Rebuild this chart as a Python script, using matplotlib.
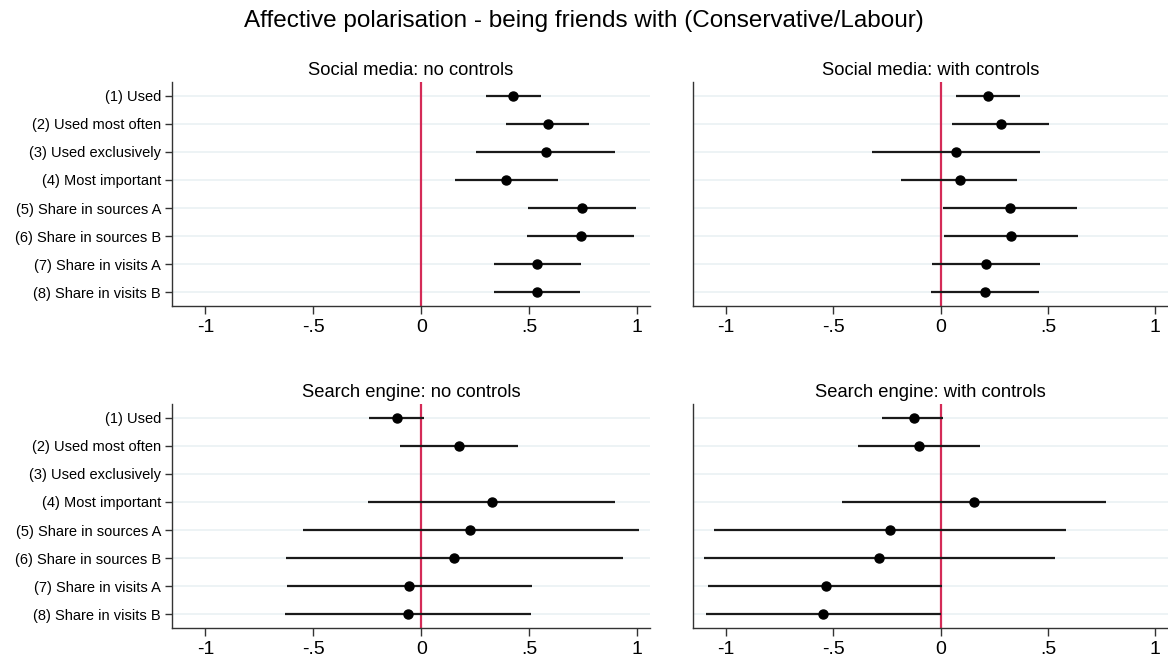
import numpy as np
import matplotlib.pyplot as plt

plt.rcParams['font.family'] = ['Liberation Sans', 'DejaVu Sans']

labels = ["(1) Used", "(2) Used most often", "(3) Used exclusively",
          "(4) Most important", "(5) Share in sources A",
          "(6) Share in sources B", "(7) Share in visits A",
          "(8) Share in visits B"]

# point estimates and 95% CI bounds, one list per panel (nan = not estimated)
sm_nc_est = [0.426, 0.586, 0.578, 0.395, 0.746, 0.739, 0.537, 0.535]
sm_nc_lo = [0.298, 0.392, 0.256, 0.156, 0.495, 0.489, 0.336, 0.335]
sm_nc_hi = [0.555, 0.779, 0.899, 0.632, 0.995, 0.987, 0.739, 0.736]

sm_wc_est = [0.221, 0.279, 0.070, 0.089, 0.322, 0.326, 0.210, 0.206]
sm_wc_lo = [0.070, 0.053, -0.322, -0.184, 0.011, 0.014, -0.042, -0.047]
sm_wc_hi = [0.372, 0.506, 0.463, 0.358, 0.636, 0.639, 0.463, 0.458]

se_nc_est = [-0.112, 0.174, np.nan, 0.326, 0.228, 0.152, -0.055, -0.062]
se_nc_lo = [-0.242, -0.099, np.nan, -0.245, -0.550, -0.628, -0.624, -0.630]
se_nc_hi = [0.015, 0.447, np.nan, 0.898, 1.007, 0.933, 0.511, 0.508]

se_wc_est = [-0.123, -0.103, np.nan, 0.154, -0.237, -0.287, -0.537, -0.547]
se_wc_lo = [-0.274, -0.386, np.nan, -0.461, -1.056, -1.103, -1.083, -1.093]
se_wc_hi = [0.012, 0.182, np.nan, 0.769, 0.583, 0.531, 0.008, 0.000]

panels = [
    ("Social media: no controls", sm_nc_est, sm_nc_lo, sm_nc_hi),
    ("Social media: with controls", sm_wc_est, sm_wc_lo, sm_wc_hi),
    ("Search engine: no controls", se_nc_est, se_nc_lo, se_nc_hi),
    ("Search engine: with controls", se_wc_est, se_wc_lo, se_wc_hi),
]

W, H = 1168, 661
fig = plt.figure(figsize=(W / 100, H / 100), dpi=100)
fig.text(0.5, 1 - 21 / H, "Affective polarisation - being friends with (Conservative/Labour)",
         ha='center', va='center', fontsize=17.5)

# axes boxes in pixels: left, top, right, bottom
boxes = [(172, 82, 650, 306), (693, 82, 1168, 306),
         (172, 404, 650, 628), (693, 404, 1168, 628)]

ypos = np.arange(1, len(labels) + 1)
red = '#d42b57'
for i, ((title, est, lo, hi), (l, t, r, b)) in enumerate(zip(panels, boxes)):
    ax = fig.add_axes([l / W, 1 - b / H, (r - l) / W, (b - t) / H])
    est = np.array(est)
    lo = np.array(lo)
    hi = np.array(hi)
    for y in ypos:
        ax.axhline(y, color='#eaf1f3', lw=1.2, zorder=0)
    ax.axvline(0, color=red, lw=1.6, zorder=1)
    ax.hlines(ypos, lo, hi, color='#1a1a1a', lw=1.6, zorder=2)
    ax.plot(est, ypos, 'o', color='black', ms=6.5, zorder=3)

    ax.set_xlim(-1.155, 1.06)
    ax.set_ylim(8.48, 0.52)
    ax.set_xticks([-1, -0.5, 0, 0.5, 1])
    ax.set_xticklabels(["-1", "-.5", "0", ".5", "1"], fontsize=14)
    ax.tick_params(axis='x', length=6, width=1, color='#333333', pad=3)
    ax.set_yticks(ypos)
    if i % 2 == 0:
        ax.set_yticklabels(labels, fontsize=10.5)
        ax.tick_params(axis='y', length=5, width=1, color='#333333', pad=3)
    else:
        ax.set_yticklabels([])
        ax.tick_params(axis='y', length=0)
    for s in ['top', 'right']:
        ax.spines[s].set_visible(False)
    for s in ['left', 'bottom']:
        ax.spines[s].set_color('#333333')
        ax.spines[s].set_linewidth(1)
    ax.set_title(title, fontsize=13.2, pad=5)

fig.savefig("out.png", dpi=100)
